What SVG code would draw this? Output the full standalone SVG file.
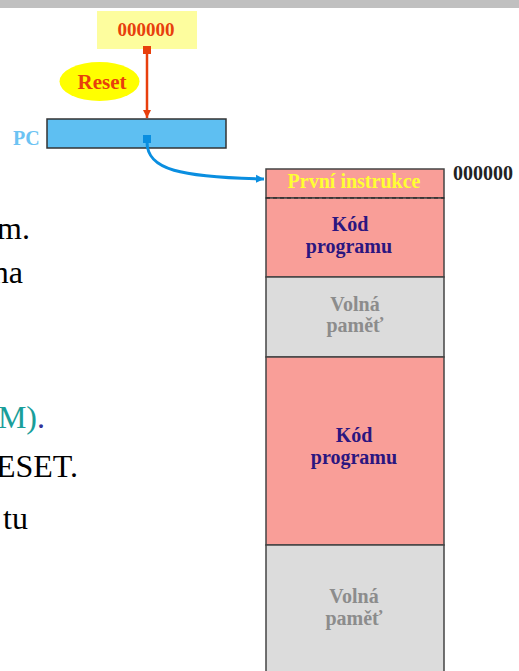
<svg xmlns="http://www.w3.org/2000/svg" width="519" height="671" viewBox="0 0 519 671">
<style>
text{font-family:'Liberation Serif','Times New Roman','DejaVu Serif','Noto Serif',serif}
.b{font-weight:bold}
.body{font-size:32px;fill:#000}
.mem{stroke:#444;stroke-width:1.5}
.code{fill:#f99e98}
.free{fill:#dcdcdc}
.codet{font-weight:bold;font-size:20px;fill:#2b1680;text-anchor:middle}
.freet{font-weight:bold;font-size:20px;fill:#8c8c8c;text-anchor:middle}
</style>
<defs>
<marker id="redArrow" markerWidth="10" markerHeight="10" refX="8" refY="5" orient="auto" markerUnits="userSpaceOnUse">
<path d="M0,1 L8,5 L0,9 Z" fill="#e83f0c"/>
</marker>
<marker id="blueArrow" markerWidth="10" markerHeight="10" refX="8" refY="5" orient="auto" markerUnits="userSpaceOnUse">
<path d="M0,1 L8,5 L0,9 Z" fill="#0a8ee0"/>
</marker>
</defs>
<rect x="0" y="0" width="519" height="8" fill="#c0c0c0"/>

<g id="body-text">
<text class="body" x="30" y="239" text-anchor="end">m.</text>
<text class="body" x="23" y="283" text-anchor="end">na</text>
<text class="body" x="45" y="428" text-anchor="end"><tspan fill="#1a9e9a">M)</tspan><tspan fill="#333399">.</tspan></text>
<text class="body" x="78" y="477" text-anchor="end">ESET.</text>
<text class="body" x="28" y="529" text-anchor="end">tu</text>
</g>

<g id="reset-value">
<rect x="97" y="11" width="100" height="38" fill="#fdfd9e"/>
<text class="b" x="146" y="36" font-size="19" fill="#e83f0c" text-anchor="middle">000000</text>
</g>

<g id="reset-label">
<ellipse cx="99.5" cy="81.5" rx="40" ry="19.5" fill="#ffff00"/>
<text class="b" x="102" y="89" font-size="21" fill="#e83f0c" text-anchor="middle">Reset</text>
</g>

<g id="pc">
<text class="b" x="13" y="145" font-size="20" fill="#6cc3f3">PC</text>
<rect x="47" y="119" width="179" height="29" fill="#5ebff2" stroke="#333" stroke-width="1.5"/>
</g>

<g id="memory">
<g id="first-instruction">
<rect class="mem code" x="266" y="169" width="178" height="29"/>
<text class="b" x="354" y="188" font-size="20" fill="#ffff33" text-anchor="middle">První instrukce</text>
</g>
<g id="code1">
<rect class="mem code" x="266" y="198" width="178" height="79"/>
<line x1="266" y1="198" x2="444" y2="198" stroke="#222" stroke-width="1" stroke-dasharray="4,3"/>
<text class="codet" x="350" y="231">Kód</text>
<text class="codet" x="349" y="253">programu</text>
</g>
<g id="free1">
<rect class="mem free" x="266" y="277" width="178" height="80"/>
<text class="freet" x="355" y="311">Volná</text>
<text class="freet" x="355" y="332">paměť</text>
</g>
<g id="code2">
<rect class="mem code" x="266" y="357" width="178" height="188"/>
<text class="codet" x="354" y="442">Kód</text>
<text class="codet" x="354" y="464">programu</text>
</g>
<g id="free2">
<rect class="mem free" x="266" y="545" width="178" height="140"/>
<text class="freet" x="354" y="603">Volná</text>
<text class="freet" x="354" y="625">paměť</text>
</g>
<text class="b" x="453" y="180" font-size="20" fill="#222">000000</text>
</g>

<g id="connectors">
<rect x="143" y="46" width="8" height="8" fill="#e83f0c"/>
<line x1="147" y1="54" x2="147" y2="118" stroke="#e83f0c" stroke-width="2.5" marker-end="url(#redArrow)"/>
<rect x="143" y="135" width="8" height="8" fill="#0a8ee0"/>
<path d="M147,142 C147,170 180,177 264,179" fill="none" stroke="#0a8ee0" stroke-width="3" marker-end="url(#blueArrow)"/>
</g>
</svg>
